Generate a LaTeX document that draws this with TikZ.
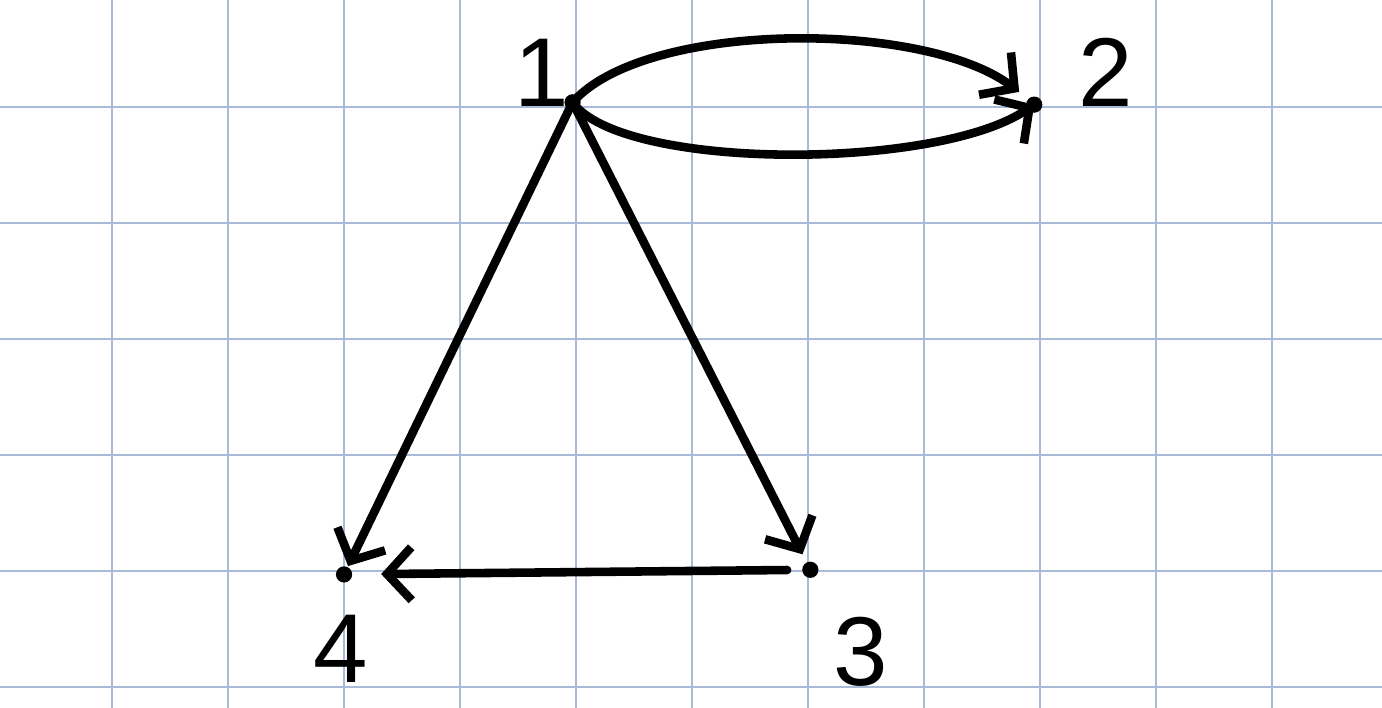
\documentclass[tikz,border=0pt]{standalone}
\usepackage{fontspec}
\setmainfont{Liberation Sans}
\usetikzlibrary{arrows.meta}
\definecolor{gridblue}{RGB}{168,186,216}

\begin{document}
\begin{tikzpicture}[
    edge/.style={line width=2.1pt, line cap=round, line join=round,
      -{Straight Barb[length=6pt,width=13pt,line width=2.1pt]}},
    lbl/.style={font=\fontsize{24}{24}\selectfont, inner sep=0pt}
  ]
    \useasboundingbox (-2.966,-1.181) rectangle (8.948,4.922);

    % Squared paper
    \foreach \x in {-2,...,8}
      \draw [gridblue, line width=0.5pt] (\x,-1.181) -- (\x,4.922);
    \foreach \y in {-1,...,4}
      \draw [gridblue, line width=0.5pt] (-2.966,\y) -- (8.948,\y);

    % Define coordinates for points
    \coordinate (v1) at (1.97,4.04);
    \coordinate (v2) at (5.95,4.02);
    \coordinate (v3) at (4.02,0.01);
    \coordinate (v4) at (0,-0.03);

    % Label the points
    \node [lbl] (l1) at (1.70,4.29) {1};
    \node [lbl] (l2) at (6.57,4.30) {2};
    \node [lbl] (l3) at (4.45,-0.70) {3};
    \node [lbl] (l4) at (-0.03,-0.67) {4};

    % Draw the edges
    \draw [edge] (v1) .. controls (2.6,4.75) and (5.0,4.75) .. ([shift={(-0.13,0.11)}]v2);
    \draw [edge] (v1) .. controls (2.4,3.45) and (5.1,3.45) .. (v2);
    \draw [edge, shorten >=0.15cm] (v1) -- (v3);
    \draw [edge, shorten >=0.08cm] (v1) -- (v4);
    \draw [edge, shorten <=0.2cm, shorten >=0.32cm] (v3) -- (v4);

    % Mark the vertices
    \foreach \v in {v1,v2,v3,v4}
      \fill (\v) circle (0.07);

\end{tikzpicture}
\end{document}
